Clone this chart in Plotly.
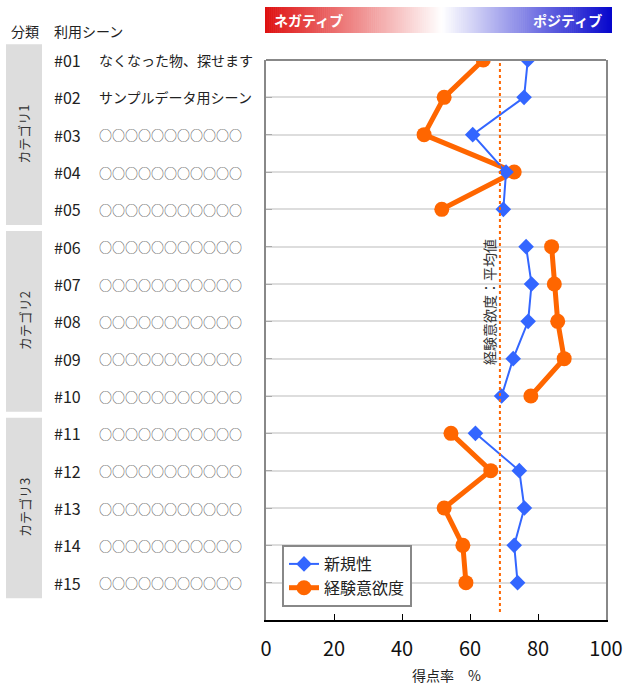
import plotly.graph_objects as go

# ---- data -------------------------------------------------------------
ids = ["#01", "#02", "#03", "#04", "#05", "#06", "#07", "#08",
       "#09", "#10", "#11", "#12", "#13", "#14", "#15"]
scenes = ["なくなった物、探せます", "サンプルデータ用シーン"] + ["○○○○○○○○○○○"] * 13
categories = ["カテゴリ1", "カテゴリ2", "カテゴリ3"]
category_rows = [(1, 5), (6, 10), (11, 15)]

novelty = [77.0, 75.9, 60.8, 70.6, 69.8, 76.5, 78.1, 77.1,
           72.7, 69.3, 61.6, 74.5, 76.0, 73.0, 74.0]
motivation = [63.9, 52.4, 46.5, 73.0, 51.7, 84.0, 84.8, 85.8,
              87.7, 77.9, 54.4, 66.1, 52.4, 57.9, 58.8]
motivation_avg = 68.8
x_ticks = [0, 20, 40, 60, 80, 100]

rows = list(range(1, len(ids) + 1))

# ---- geometry helpers (pixels -> paper) --------------------------------
W, H = 626, 684
L, R, T, B = 266, 20, 60, 64
PW, PH = W - L - R, H - T - B
N_ROWS = len(ids)


def px_x(px):
    return (px - L) / PW


def px_y(py):
    return (H - B - py) / PH


def row_y(r):
    # rows run from 1 (top) to N_ROWS + 1 (bottom edge)
    return (N_ROWS + 1 - r) / N_ROWS


def split_by_category(values):
    """Series values with a gap between categories so lines break there."""
    xs, ys = [], []
    for r0, r1 in category_rows:
        if xs:
            xs.append(None)
            ys.append(None)
        for r in range(r0, r1 + 1):
            xs.append(values[r - 1])
            ys.append(r)
    return xs, ys


FONT = "Noto Sans CJK JP"
BLUE = "#3366ff"
ORANGE = "#ff6600"


def label(x, y, text, size, color="#222222", xanchor="center", angle=0,
          xref="paper", yref="paper", bold=False):
    return dict(xref=xref, yref=yref, x=x, y=y, xanchor=xanchor, yanchor="middle",
                text=f"<b>{text}</b>" if bold else text, textangle=angle,
                showarrow=False, font=dict(family=FONT, size=size, color=color))


fig = go.Figure()

mx, my = split_by_category(motivation)
nx, ny = split_by_category(novelty)

fig.add_trace(go.Scatter(
    x=mx, y=my, name="経験意欲度", mode="lines+markers", connectgaps=False,
    line=dict(color=ORANGE, width=5),
    marker=dict(symbol="circle", size=15, color=ORANGE),
))
fig.add_trace(go.Scatter(
    x=nx, y=ny, name="新規性", mode="lines+markers", connectgaps=False,
    line=dict(color=BLUE, width=2),
    marker=dict(symbol="diamond", size=12, color=BLUE),
))

shapes = []
annotations = []

# average line of 経験意欲度
shapes.append(dict(type="line", xref="x", yref="y",
                   x0=motivation_avg, x1=motivation_avg, y0=1.08, y1=15.8,
                   line=dict(color=ORANGE, width=2, dash="dot")))
annotations.append(label(65.6, 7.48, "経験意欲度：平均値", 14, "#333333",
                         angle=-90, xref="x", yref="y"))

# top frame line (grey)
shapes.append(dict(type="line", xref="paper", yref="paper", x0=0, x1=1, y0=1, y1=1,
                   line=dict(color="#888888", width=2)))

# negative / positive gradient band
n_band = 170
bx0, bx1 = px_x(265), px_x(612)
by0, by1 = px_y(33), px_y(7)
red = (222, 16, 16)
white = (255, 255, 255)
blue = (6, 6, 204)
mid = 0.51
for i in range(n_band):
    t = (i + 0.5) / n_band
    if t < mid:
        f = t / mid
        c = [round(red[k] + (white[k] - red[k]) * f) for k in range(3)]
    else:
        f = (t - mid) / (1 - mid)
        c = [round(white[k] + (blue[k] - white[k]) * f) for k in range(3)]
    xa = bx0 + (bx1 - bx0) * i / n_band
    xb = bx0 + (bx1 - bx0) * (i + 1.3) / n_band
    shapes.append(dict(type="rect", xref="paper", yref="paper",
                       x0=xa, x1=min(xb, bx1), y0=by0, y1=by1,
                       fillcolor=f"rgb({c[0]},{c[1]},{c[2]})", line=dict(width=0)))
annotations.append(label(px_x(272), px_y(20), "ネガティブ", 14, "white",
                         xanchor="left", bold=True))
annotations.append(label(px_x(604), px_y(20), "ポジティブ", 14, "white",
                         xanchor="right", bold=True))

# column headers
annotations.append(label(px_x(9), px_y(31), "分類", 14, xanchor="left"))
annotations.append(label(px_x(52), px_y(31), "利用シーン", 14, xanchor="left"))

# category boxes
for name, (r0, r1) in zip(categories, category_rows):
    shapes.append(dict(type="rect", xref="paper", yref="paper",
                       x0=px_x(6), x1=px_x(42),
                       y0=row_y(r1 + 0.42), y1=row_y(r0 - 0.42),
                       fillcolor="#dddddd", line=dict(width=0)))
    annotations.append(label(px_x(24), row_y((r0 + r1) / 2), name, 13,
                             "#333333", angle=-90))

# row labels
for r, rid, sc in zip(rows, ids, scenes):
    annotations.append(label(px_x(52), r, rid, 16, xanchor="left", yref="y"))
    if sc.startswith("○"):
        annotations.append(label(px_x(97), r, sc, 13, "#555555",
                                 xanchor="left", yref="y"))
    else:
        annotations.append(label(px_x(97), r, sc, 14, xanchor="left", yref="y"))

# x axis title
annotations.append(label(px_x(446), px_y(675), "得点率　%", 14))

fig.update_layout(
    width=W, height=H,
    margin=dict(l=L, r=R, t=T, b=B, autoexpand=False),
    paper_bgcolor="white", plot_bgcolor="white",
    font=dict(family=FONT, color="#222222"),
    shapes=shapes, annotations=annotations,
    showlegend=True,
    legend=dict(x=px_x(282), y=px_y(545), xanchor="left", yanchor="top",
                traceorder="reversed", bgcolor="white",
                bordercolor="#888888", borderwidth=2,
                font=dict(family=FONT, size=16, color="#222222")),
    xaxis=dict(range=[0, 100], tickvals=x_ticks, ticks="inside", ticklen=6,
               tickcolor="#000000", tickwidth=1, showline=True,
               linecolor="#000000", linewidth=2, showgrid=False, zeroline=False,
               automargin=False, ticklabelstandoff=10,
               tickfont=dict(family=FONT, size=20, color="#111111")),
    yaxis=dict(range=[N_ROWS + 1, 1], tickvals=rows, showticklabels=False,
               ticks="inside", ticklen=6, tickcolor="#aaaaaa",
               showgrid=True, gridcolor="#dddddd", gridwidth=2,
               showline=True, linecolor="#888888", linewidth=2, mirror=True,
               zeroline=False, automargin=False),
)

fig.write_html("out.html")
